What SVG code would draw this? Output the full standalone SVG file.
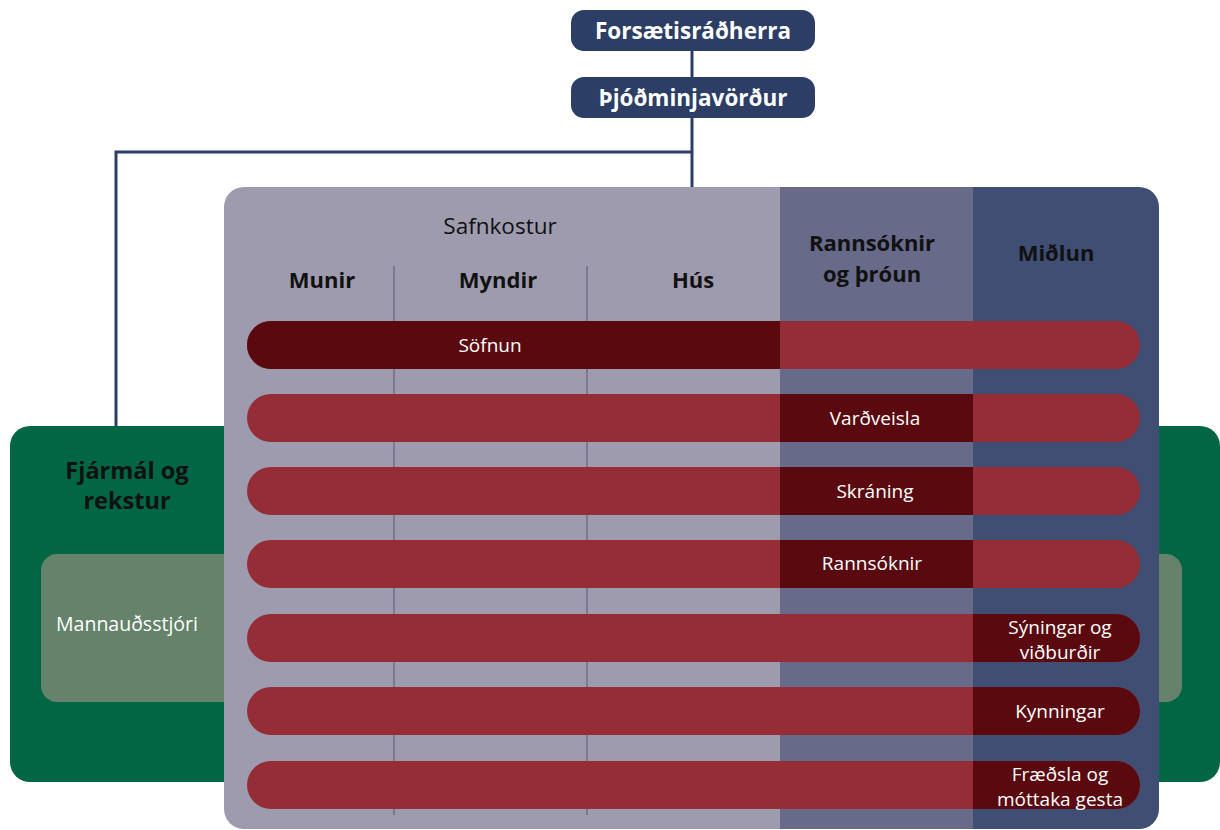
<svg xmlns="http://www.w3.org/2000/svg" width="1220" height="830" viewBox="0 0 1220 830">
<style>
.t{font-family:"Open Sans","Liberation Sans",sans-serif;}
.top{fill:#2c3e66;}
.topt{font-family:"Open Sans","Liberation Sans",sans-serif;font-weight:bold;font-size:22.5px;fill:#fff;text-anchor:middle;}
.hd{font-family:"Open Sans","Liberation Sans",sans-serif;font-weight:bold;font-size:22px;fill:#111;text-anchor:middle;}
.lb{font-family:"Open Sans","Liberation Sans",sans-serif;font-size:19px;fill:#fff;text-anchor:middle;}
.red{fill:#952d36;}
.dark{fill:#5a0a0e;}
.conn{stroke:#2c3e66;stroke-width:3;fill:none;}
.div{stroke:#6f6d86;stroke-width:1.5;}
</style>
<rect width="1220" height="830" fill="#fff"/>
<g id="connectors">
<line class="conn" x1="692" y1="50" x2="692" y2="78"/>
<polyline class="conn" points="692,117 692,188"/>
<polyline class="conn" points="692,152 116,152 116,428"/>
</g>
<g id="forsaetisradherra">
<rect class="top" x="571" y="10" width="244" height="41" rx="13"/>
<text class="topt" x="693" y="39">Forsætisráðherra</text>
</g>
<g id="thjodminjavordur">
<rect class="top" x="571" y="77" width="244" height="41" rx="13"/>
<text class="topt" x="693" y="106">Þjóðminjavörður</text>
</g>
<g id="fjarmal">
<rect x="10" y="426" width="1210" height="356" rx="20" fill="#006644"/>
<text class="hd" style="font-size:23.5px"><tspan x="127" y="479">Fjármál og</tspan><tspan x="127" dy="30">rekstur</tspan></text>
</g>
<g id="mannaudsstjori">
<rect x="41" y="554" width="1141" height="148" rx="16" fill="#65826a"/>
<text class="lb" x="127" y="631" style="font-size:19.5px">Mannauðsstjóri</text>
</g>
<g id="main">
<clipPath id="mc"><rect x="224" y="187" width="935" height="642" rx="20"/></clipPath>
<g clip-path="url(#mc)">
<rect x="224" y="187" width="556" height="642" fill="#9f9bae"/>
<rect x="780" y="187" width="193" height="642" fill="#676a88"/>
<rect x="973" y="187" width="186" height="642" fill="#3f4e72"/>
</g>
<line class="div" x1="394" y1="266" x2="394" y2="815"/>
<line class="div" x1="587" y1="266" x2="587" y2="815"/>
<text class="t" x="500" y="234" font-size="22.5" fill="#111" text-anchor="middle">Safnkostur</text>
<text class="hd" x="322" y="288">Munir</text>
<text class="hd" x="498" y="288">Myndir</text>
<text class="hd" x="693" y="288">Hús</text>
<text class="hd"><tspan x="872" y="251">Rannsóknir</tspan><tspan x="872" dy="31">og þróun</tspan></text>
<text class="hd" x="1056" y="261">Miðlun</text>
</g>
<g id="sofnun">
<rect class="red" x="247" y="321" width="893" height="48" rx="24"/>
<path class="dark" d="M271,321 H780 V369 H271 A24,24 0 0 1 271,321 Z"/>
<text class="lb" x="490" y="352">Söfnun</text>
</g>
<g id="vardveisla">
<rect class="red" x="247" y="394" width="893" height="48" rx="24"/>
<rect class="dark" x="780" y="394" width="193" height="48"/>
<text class="lb" x="875" y="425">Varðveisla</text>
</g>
<g id="skraning">
<rect class="red" x="247" y="467" width="893" height="48" rx="24"/>
<rect class="dark" x="780" y="467" width="193" height="48"/>
<text class="lb" x="875" y="498">Skráning</text>
</g>
<g id="rannsoknir">
<rect class="red" x="247" y="540" width="893" height="48" rx="24"/>
<rect class="dark" x="780" y="540" width="193" height="48"/>
<text class="lb" x="872" y="570">Rannsóknir</text>
</g>
<g id="syningar">
<rect class="red" x="247" y="614" width="893" height="48" rx="24"/>
<path class="dark" d="M973,614 H1116 A24,24 0 0 1 1116,662 H973 Z"/>
<text class="lb"><tspan x="1060" y="634">Sýningar og</tspan><tspan x="1060" dy="25">viðburðir</tspan></text>
</g>
<g id="kynningar">
<rect class="red" x="247" y="687" width="893" height="48" rx="24"/>
<path class="dark" d="M973,687 H1116 A24,24 0 0 1 1116,735 H973 Z"/>
<text class="lb" x="1060" y="718">Kynningar</text>
</g>
<g id="fraedsla">
<rect class="red" x="247" y="761" width="893" height="48" rx="24"/>
<path class="dark" d="M973,761 H1116 A24,24 0 0 1 1116,809 H973 Z"/>
<text class="lb"><tspan x="1060" y="781">Fræðsla og</tspan><tspan x="1060" dy="25">móttaka gesta</tspan></text>
</g>
</svg>
